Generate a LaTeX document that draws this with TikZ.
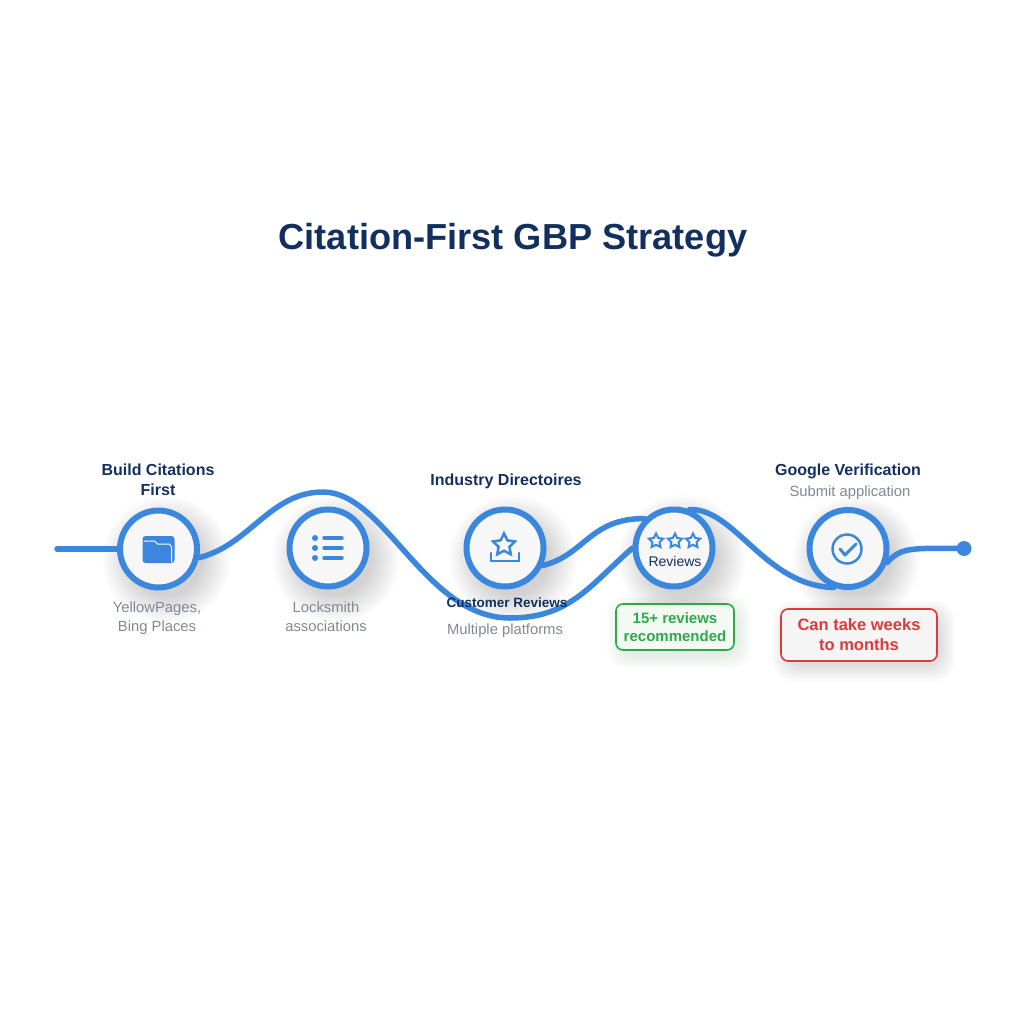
\documentclass[tikz,border=0pt]{standalone}
\usepackage{fontspec}
\setmainfont{Liberation Sans}
\usetikzlibrary{backgrounds,shapes.geometric}
\definecolor{pathblue}{HTML}{3B87DD}
\definecolor{navy}{HTML}{12305F}
\definecolor{slate}{HTML}{808895}
\definecolor{okgreen}{HTML}{2FA84A}
\definecolor{alertred}{HTML}{DC3A3C}
\tikzset{
  stepcircle/.style={circle,draw=pathblue,line width=6pt,fill=black!3,minimum size=77pt,inner sep=0pt},
  route/.style={draw=pathblue,line width=5.5pt,line cap=round},
  headlabel/.style={font=\fontsize{16}{20}\selectfont\bfseries,text=navy,align=center,inner sep=0pt},
  sublabel/.style={font=\fontsize{14.8}{19.5}\selectfont,text=slate,align=center,inner sep=0pt},
  iconline/.style={draw=pathblue,line width=2.5pt},
  badge/.style={rounded corners=7pt,line width=1.6pt,align=center,inner sep=0pt,font=\bfseries},
  smallstar/.style={star,star points=5,star point ratio=2,draw=pathblue,line width=2pt,inner sep=0pt,minimum size=15pt}
}
\begin{document}
\begin{tikzpicture}[x=1pt,y=-1pt]
  \useasboundingbox (0,0) rectangle (1024,1024);

  \node[font=\fontsize{36.2}{44}\selectfont\bfseries,text=navy,inner sep=0pt] (title) at (513,240) {Citation-First GBP Strategy};

  % steps
  \node[stepcircle] (build) at (158.5,549) {};
  \node[stepcircle] (locksmith) at (328,548) {};
  \node[stepcircle] (industry) at (505,548) {};
  \node[stepcircle] (reviews) at (674,548) {};
  \node[stepcircle] (verify) at (848,548.5) {};

  % labels
  \node[headlabel] (buildhead) at (158,479.5) {Build Citations\\First};
  \node[sublabel] (buildsub) at (157,618) {YellowPages,\\Bing Places};
  \node[sublabel] (locksmithsub) at (326,616.5) {Locksmith\\associations};
  \node[headlabel] (industryhead) at (506,481.5) {Industry Directoires};
  \node[headlabel,font=\fontsize{13.5}{16}\selectfont\bfseries] (customerhead) at (507,603) {Customer Reviews};
  \node[sublabel] (customersub) at (505,630.5) {Multiple platforms};
  \node[headlabel] (verifyhead) at (848,471.5) {Google Verification};
  \node[sublabel] (verifysub) at (850,492.5) {Submit application};
  \node[headlabel,font=\fontsize{14}{16}\selectfont] (reviewslabel) at (675,561) {Reviews};

  % badges
  \node[badge,draw=okgreen,fill=okgreen!6,text=okgreen,minimum width=118pt,minimum height=46pt,font=\fontsize{15}{18}\selectfont\bfseries] (greenbadge) at (675,627) {15+ reviews\\recommended};
  \node[badge,draw=alertred,fill=black!4,text=alertred,minimum width=156pt,minimum height=52pt,font=\fontsize{16.5}{20}\selectfont\bfseries] (redbadge) at (859,635) {Can take weeks\\to months};

  % folder icon
  \begin{scope}[shift={(build.center)}]
    \fill[pathblue,rounded corners=3pt] (-16,-13) rectangle (16,14);
    \draw[white,line width=1pt] (-15,-8) -- (-4,-8) -- (-1,-5) -- (11,-5) -- (13,-2) -- (13,13);
  \end{scope}

  % list icon
  \begin{scope}[shift={(locksmith.center)}]
    \foreach \y in {-10,0,10} {
      \fill[pathblue] (-13,\y) circle (3);
      \draw[pathblue,line width=3.5pt,line cap=round] (-4,\y) -- (14,\y);
    }
  \end{scope}

  % star and tray icon
  \node[smallstar,minimum size=23pt,line width=2.5pt] (traystar) at (504,545) {};
  \begin{scope}[shift={(industry.center)}]
    \draw[iconline,line cap=round] (-14,5) -- (-14,13) -- (14,13) -- (14,5);
  \end{scope}

  % three stars
  \node[smallstar] (stara) at (656,541) {};
  \node[smallstar] (starb) at (675,541) {};
  \node[smallstar] (starc) at (693,541) {};

  % check icon
  \node[circle,iconline,minimum size=29pt,inner sep=0pt] (checkring) at (847,549) {};
  \coordinate (checka) at (840,549);
  \coordinate (checkb) at (845,555);
  \coordinate (checkc) at (856,544);
  \draw[iconline,line width=3pt,line cap=round,line join=round] (checka) -- (checkb) -- (checkc);

  \node[circle,fill=pathblue,minimum size=15pt,inner sep=0pt] (finish) at (964,548.5) {};
  \coordinate (begin) at (57,549);
  \coordinate (peak) at (323,492);
  \coordinate (dip) at (510,618);

  \begin{scope}[on background layer]
    % soft shadows
    \foreach \n in {build,locksmith,industry,reviews,verify} {
      \foreach \r in {36,38,...,64} {
        \fill[black,opacity=.011,shift={(\n.center)}] (8,11) circle (\r);
      }
    }
    \foreach \r in {0,2,...,14} {
      \fill[okgreen!60!black,opacity=.014,rounded corners=18pt,shift={(greenbadge.center)}] (-54-\r,-18-\r) rectangle (62+\r,28+\r);
      \fill[black,opacity=.016,rounded corners=18pt,shift={(redbadge.center)}] (-72-\r,-20-\r) rectangle (82+\r,32+\r);
    }
    % routes
    \draw[route] (begin) -- (build.west);
    \draw[route] (build.-12) .. controls (250,545) and (270,492) .. (peak)
      .. controls (385,492) and (425,618) .. (dip)
      .. controls (570,618) and (590,585) .. (reviews.180);
    \draw[route] (industry.-25) .. controls (585,555) and (590,518) .. (reviews.135);
    \draw[route] (reviews.68) .. controls (735,508) and (765,586) .. (verify.-110);
    \draw[route] (verify.-20) .. controls (900,548) and (910,548) .. (finish);
  \end{scope}
\end{tikzpicture}
\end{document}
